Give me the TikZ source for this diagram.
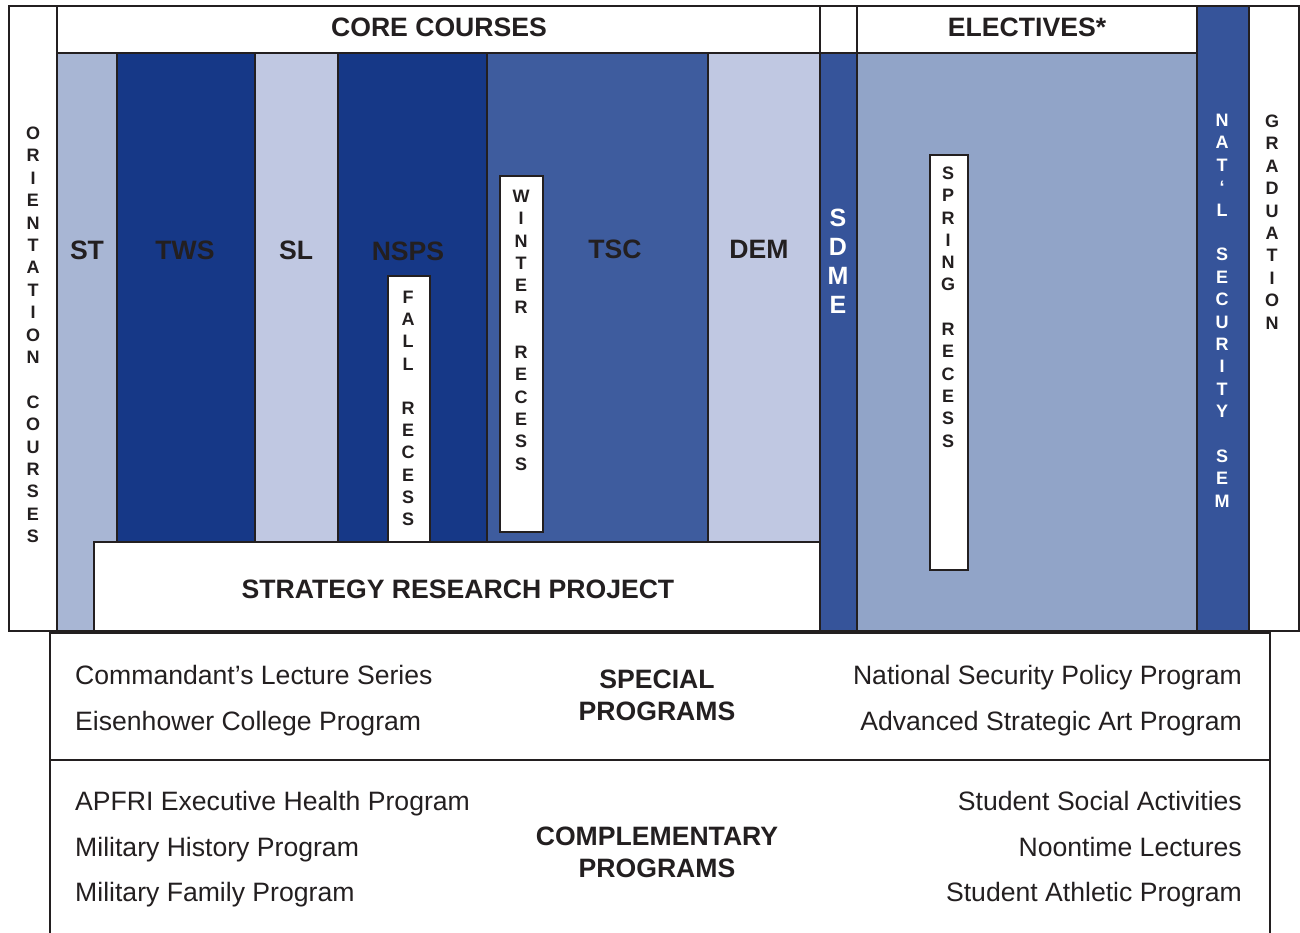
\documentclass[tikz,border=0pt]{standalone}
\usepackage{fontspec}
\setmainfont{Liberation Sans}
\definecolor{stcol}{RGB}{168,182,212}
\definecolor{darkcol}{RGB}{22,56,135}
\definecolor{lightcol}{RGB}{192,200,226}
\definecolor{tsccol}{RGB}{62,92,158}
\definecolor{semcol}{RGB}{54,84,154}
\definecolor{electcol}{RGB}{145,164,200}
\definecolor{ink}{RGB}{35,31,32}
\begin{document}
\begin{tikzpicture}[x=1pt,y=-1pt, line join=miter,
  box/.style={draw=ink, line width=1.5pt},
  frame/.style={draw=ink, line width=2.5pt},
  colhead/.style={font=\fontsize{26.6}{30}\selectfont\bfseries, text=ink, inner sep=0pt, text height=19pt, text depth=0pt},
  vlet/.style={font=\fontsize{18}{20}\selectfont\bfseries, text=ink, inner sep=0pt, text height=12.9pt, text depth=0pt},
  prog/.style={font=\fontsize{26.6}{30}\selectfont, text=ink, inner sep=0pt}]
\useasboundingbox (0,0) rectangle (1300,932);
% course columns
\draw[box, fill=stcol] (57,53) rectangle (117,631);
\draw[box, fill=darkcol] (117,53) rectangle (255,631);
\draw[box, fill=lightcol] (255,53) rectangle (338,631);
\draw[box, fill=darkcol] (338,53) rectangle (487,631);
\draw[box, fill=tsccol] (487,53) rectangle (708,631);
\draw[box, fill=lightcol] (708,53) rectangle (820,631);
\draw[box, fill=semcol] (820,53) rectangle (857,631);
\draw[box, fill=electcol] (857,53) rectangle (1197,631);
\draw[box, fill=semcol] (1197,6) rectangle (1249,631);
% headers and side columns
\draw[box, fill=white] (9,6) rectangle (57,631);
\draw[box, fill=white] (57,6) rectangle (820,53);
\draw[box, fill=white] (820,6) rectangle (857,53);
\draw[box, fill=white] (857,6) rectangle (1197,53);
\draw[box, fill=white] (1249,6) rectangle (1299,631);
\node[colhead] (core) at (439,27) {CORE COURSES};
\node[colhead] (elect) at (1027,27) {ELECTIVES*};
% column labels
\node[colhead] (st) at (87,250) {ST};
\node[colhead] (tws) at (185,250) {TWS};
\node[colhead] (sl) at (296,250) {SL};
\node[colhead] (nsps) at (408,251) {NSPS};
\node[colhead] (tsc) at (615,249) {TSC};
\node[colhead] (dem) at (759,249) {DEM};
% strategy research project
\draw[box, fill=white] (94,542) rectangle (820,631);
\node[colhead] (srp) at (458,589) {STRATEGY RESEARCH PROJECT};
% recess boxes
\draw[box, fill=white] (388,276) rectangle (430,542);
\draw[box, fill=white] (500,176) rectangle (543,532);
\draw[box, fill=white] (930,155) rectangle (968,570);
\foreach \l [count=\i from 0] in {F,A,L,L,,R,E,C,E,S,S}
  \node[vlet] (fall-\i) at (408,297+22.2*\i) {\l};
\foreach \l [count=\i from 0] in {W,I,N,T,E,R,,R,E,C,E,S,S}
  \node[vlet] (winter-\i) at (521,196+22.3*\i) {\l};
\foreach \l [count=\i from 0] in {S,P,R,I,N,G,,R,E,C,E,S,S}
  \node[vlet] (spring-\i) at (948,173+22.3*\i) {\l};
% side stacks
\foreach \l [count=\i from 0] in {O,R,I,E,N,T,A,T,I,O,N,,C,O,U,R,S,E,S}
  \node[vlet] (orient-\i) at (33,133+22.4*\i) {\l};
\foreach \l [count=\i from 0] in {G,R,A,D,U,A,T,I,O,N}
  \node[vlet] (grad-\i) at (1272,121+22.4*\i) {\l};
\foreach \l [count=\i from 0] in {N,A,T,‘,L,,S,E,C,U,R,I,T,Y,,S,E,M}
  \node[vlet, text=white] (natl-\i) at (1222,120+22.4*\i) {\l};
\foreach \l [count=\i from 0] in {S,D,M,E}
  \node[vlet, text=white, font=\fontsize{25}{28}\selectfont\bfseries, text height=17.9pt] (sdme-\i) at (838,218+28.8*\i) {\l};
\draw[frame] (9,6) rectangle (1299,631);
% programs
\draw[box] (50,633) rectangle (1270,760);
\draw[box] (50,760) -- (50,934) (1270,760) -- (1270,934);
\node[prog, anchor=base west] (cls) at (75,684) {Commandant’s Lecture Series};
\node[prog, anchor=base west] (ecp) at (75,730) {Eisenhower College Program};
\node[prog, anchor=base east] (nspp) at (1242,684) {National Security Policy Program};
\node[prog, anchor=base east] (asap) at (1242,730) {Advanced Strategic Art Program};
\node[prog, font=\fontsize{26.6}{32}\selectfont\bfseries, align=center] (special) at (657,695) {SPECIAL\\PROGRAMS};
\node[prog, anchor=base west] (apfri) at (75,810) {APFRI Executive Health Program};
\node[prog, anchor=base west] (mhp) at (75,856) {Military History Program};
\node[prog, anchor=base west] (mfp) at (75,901) {Military Family Program};
\node[prog, anchor=base east] (ssa) at (1242,810) {Student Social Activities};
\node[prog, anchor=base east] (nl) at (1242,856) {Noontime Lectures};
\node[prog, anchor=base east] (sap) at (1242,901) {Student Athletic Program};
\node[prog, font=\fontsize{26.6}{32}\selectfont\bfseries, align=center] (compl) at (657,852) {COMPLEMENTARY\\PROGRAMS};
\end{tikzpicture}
\end{document}
